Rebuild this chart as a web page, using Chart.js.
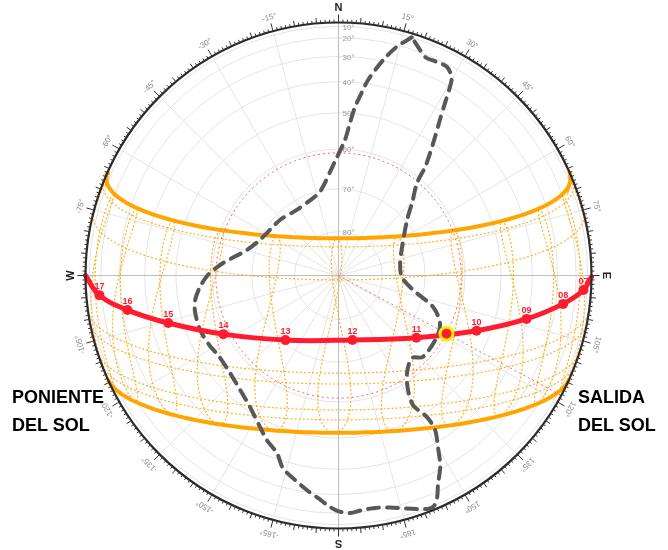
<!DOCTYPE html>
<html>
<head>
<meta charset="utf-8">
<script src="https://cdn.jsdelivr.net/npm/chart.js@4/dist/chart.umd.min.js"></script>
<style>
  html, body { margin: 0; padding: 0; background: #ffffff; }
  #wrap { position: relative; width: 668px; height: 550px; }
  canvas { display: block; }
  .side { position: absolute; font-family: "Liberation Sans", Arial, sans-serif; font-weight: bold;
          font-size: 18px; line-height: 28px; color: #000; }
</style>
</head>
<body>
<div id="wrap">
  <canvas id="sun" width="668" height="550"></canvas>
  <div class="side" style="left:12px; top:383px;">PONIENTE<br>DEL SOL</div>
  <div class="side" style="left:578px; top:383px;">SALIDA<br>DEL SOL</div>
</div>
<script>
// Site latitude (degrees north) and clock-to-solar time offset (minutes)
const LATITUDE = 15;
const CLOCK_OFFSET_MIN = 3;

// Altitude rings and azimuth grid (degrees)
const altitudeRings = [10, 20, 30, 40, 50, 60, 70, 80];
const azimuthGridStep = 15;
const azimuthLabels = [15, 30, 45, 60, 75, 105, 120, 135, 150, 165,
                       -15, -30, -45, -60, -75, -105, -120, -135, -150, -165];
const compassLabels = ['N', 'E', 'S', 'W'];

// Date lines (declination, degrees); the two solstices are drawn solid
const solsticeDeclinations = [23.44, -23.44];
const dateDeclinations = [21.5, 14.0, -7.7, -10.4, -17.1, -19.8];
// Clock hours shown as analemma hour lines
const hourLines = [5, 6, 7, 8, 9, 10, 11, 12, 13, 14, 15, 16, 17, 18, 19];

// Sun path of the day: hour labels with azimuth / altitude (degrees)
const dayHours   = ['07', '08', '09', '10', '11', '12', '13', '14', '15', '16', '17'];
const dayAzimuth = [93.4, 97.2, 103.0, 111.8, 128.6, 167.8, 219.4, 243.0, 254.4, 260.7, 265.3];
const dayAltitude= [14.1, 26.5, 40.3, 54.0, 66.8, 74.9, 70.7, 59.3, 45.7, 32.3, 18.5];
const riseAzimuth = 90.3, setAzimuth = 270.0;

// Current sun position
const sunAzimuth = 118.3;
const sunAltitude = 61.0;

// Obstruction skyline (azimuth / altitude, degrees), closed outline
const obstructionAzimuth = [17.1, 14.3, 11.7, 8.6, 7.3, 5.6, 4.3, 2.7, 358.2, 347.6, 341.8, 327.5, 313.5, 296.1, 285.5,
  276.2, 270.2, 265.3, 260.3, 255.7, 248.5, 241.2, 236.6, 228.1, 220.7, 213.9, 207.4, 203.5, 199.1, 196.1,
  192.0, 188.4, 185.3, 182.1, 180.1, 177.2, 174.3, 171.1, 167.5, 163.6, 159.2, 157.5, 156.1, 154.6, 151.9,
  149.9, 148.0, 148.0, 150.1, 148.7, 144.9, 138.3, 134.0, 122.0, 115.1, 108.4, 101.0, 91.4, 78.5, 65.8,
  51.0, 45.4, 40.3, 38.6, 36.8, 34.9, 33.1, 31.7, 30.6, 29.7, 27.5, 24.8, 21.6, 19.9, 17.1];
const obstructionAltitude = [9.9, 21.1, 29.6, 38.6, 43.0, 48.0, 52.8, 57.6, 63.2, 70.2, 71.2, 72.1, 71.4, 70.3, 67.9,
  62.7, 58.9, 56.7, 54.9, 54.2, 54.0, 54.6, 55.2, 54.8, 53.4, 51.2, 47.6, 44.8, 42.0, 37.6,
  34.3, 31.0, 28.0, 23.7, 21.4, 19.9, 21.3, 21.6, 20.1, 16.2, 9.2, 9.5, 15.9, 23.6, 31.4,
  38.4, 43.9, 48.7, 53.8, 58.1, 61.9, 64.1, 62.4, 62.7, 63.7, 66.8, 72.5, 75.5, 75.6, 74.0,
  69.6, 65.9, 61.3, 56.7, 52.8, 48.2, 42.8, 36.8, 30.1, 25.5, 21.7, 21.7, 21.7, 18.6, 9.9];

// Colours
const RED = 'rgb(255, 28, 48)';
const ORANGE = 'rgb(255, 165, 0)';
const GREY_DASH = 'rgb(88, 88, 88)';

// ---- geometry helpers ----
const D2R = Math.PI / 180;
// orthographic projection of the sky hemisphere: horizon radius = 1
function project(az, alt) {
  const r = Math.cos(alt * D2R);
  return { x: r * Math.sin(az * D2R), y: r * Math.cos(az * D2R) };
}
// sun azimuth/altitude from declination and hour angle
function sunPosition(dec, ha) {
  const p = LATITUDE * D2R, d = dec * D2R, h = ha * D2R;
  const east = -Math.cos(d) * Math.sin(h);
  const north = Math.cos(p) * Math.sin(d) - Math.sin(p) * Math.cos(d) * Math.cos(h);
  const up = Math.sin(p) * Math.sin(d) + Math.cos(p) * Math.cos(d) * Math.cos(h);
  const alt = Math.asin(Math.max(-1, Math.min(1, up))) / D2R;
  let az = Math.atan2(east, north) / D2R;
  if (az < 0) az += 360;
  return { az, alt };
}
function declination(day) {
  return 23.44 * Math.sin(2 * Math.PI * (284 + day) / 365);
}
function equationOfTime(day) {
  const b = 2 * Math.PI * (day - 81) / 364;
  return 9.87 * Math.sin(2 * b) - 7.53 * Math.cos(b) - 1.5 * Math.sin(b);
}

// one day's path from sunrise to sunset
function datePath(dec) {
  const t = -Math.tan(LATITUDE * D2R) * Math.tan(dec * D2R);
  const h0 = Math.acos(Math.max(-1, Math.min(1, t))) / D2R;
  const pts = [];
  const n = 120;
  for (let i = 0; i <= n; i++) {
    const ha = -h0 + (2 * h0) * i / n;
    const s = sunPosition(dec, ha);
    pts.push(project(s.az, Math.max(0, s.alt)));
  }
  return pts;
}

// analemma hour line, split into pieces above the horizon
function hourLine(hour) {
  const pieces = [];
  let cur = [];
  for (let day = 0; day <= 366; day += 2) {
    const solar = hour * 60 + CLOCK_OFFSET_MIN + equationOfTime(day);
    const ha = (solar / 60 - 12) * 15;
    const s = sunPosition(declination(day), ha);
    if (s.alt >= 0) {
      cur.push(project(s.az, s.alt));
    } else if (cur.length) {
      pieces.push(cur); cur = [];
    }
  }
  if (cur.length) pieces.push(cur);
  return pieces;
}

// ---- datasets ----
const datasets = [];
const lineBase = { showLine: true, pointRadius: 0, fill: false, tension: 0 };

// current sun marker (top)
datasets.push(Object.assign({}, lineBase, {
  order: 0, data: [project(sunAzimuth, sunAltitude)], showLine: false,
  pointRadius: 6.5, pointBackgroundColor: RED, pointBorderColor: 'rgb(255, 238, 0)', pointBorderWidth: 3
}));

// day path with hour points
const dayPoints = dayAzimuth.map((a, i) => project(a, dayAltitude[i]));
datasets.push(Object.assign({}, lineBase, {
  order: 1,
  data: [project(riseAzimuth, 0)].concat(dayPoints, [project(setAzimuth, 0)]),
  borderColor: RED, borderWidth: 5, tension: 0.4,
  pointRadius: ctx => (ctx.dataIndex === 0 || ctx.dataIndex === dayPoints.length + 1) ? 0 : 5,
  pointBackgroundColor: RED, pointBorderWidth: 0, borderCapStyle: 'round'
}));

// obstruction outline
datasets.push(Object.assign({}, lineBase, {
  order: 2,
  data: obstructionAzimuth.map((a, i) => project(a, obstructionAltitude[i])),
  borderColor: GREY_DASH, borderWidth: 4, borderDash: [11, 8], borderCapStyle: 'round', tension: 0.3
}));

// sun altitude circle and bearing ray
const circ = [];
for (let a = 0; a <= 360; a += 3) circ.push(project(a, sunAltitude));
datasets.push(Object.assign({}, lineBase, {
  order: 3, data: circ, borderColor: 'rgba(255, 70, 70, 0.85)', borderWidth: 1, borderDash: [2, 3]
}));
datasets.push(Object.assign({}, lineBase, {
  order: 3, data: [{ x: 0, y: 0 }, project(sunAzimuth, 0)],
  borderColor: 'rgba(255, 70, 70, 0.85)', borderWidth: 1, borderDash: [2, 3]
}));
datasets.push(Object.assign({}, lineBase, {
  order: 3, data: [project(0, sunAltitude)], showLine: false,
  pointRadius: 2, pointStyle: 'rect', pointBackgroundColor: RED, pointBorderWidth: 0
}));

// solstice paths
solsticeDeclinations.forEach(dec => {
  datasets.push(Object.assign({}, lineBase, {
    order: 4, data: datePath(dec), borderColor: ORANGE, borderWidth: 4
  }));
});
// monthly date lines
dateDeclinations.forEach(dec => {
  datasets.push(Object.assign({}, lineBase, {
    order: 5, data: datePath(dec), borderColor: 'rgba(255, 165, 0, 0.85)', borderWidth: 1.2, borderDash: [2, 2]
  }));
});
// hour lines (analemmas)
hourLines.forEach(h => {
  hourLine(h).forEach(piece => {
    datasets.push(Object.assign({}, lineBase, {
      order: 5, data: piece, borderColor: 'rgba(255, 165, 0, 0.85)', borderWidth: 1.2, borderDash: [2, 2]
    }));
  });
});

// ---- static sky grid, ring and labels ----
const CX = 338.5, CY = 275.5, RPX = 253, W = 668, H = 550;
const skyGrid = {
  id: 'skyGrid',
  beforeDatasetsDraw(chart) {
    const { ctx, scales: { x, y } } = chart;
    const px = v => x.getPixelForValue(v), py = v => y.getPixelForValue(v);
    const cx = px(0), cy = py(0), R = px(1) - px(0);
    ctx.save();
    // altitude rings
    ctx.strokeStyle = '#e4e4e4'; ctx.lineWidth = 1;
    altitudeRings.forEach(a => {
      ctx.beginPath(); ctx.arc(cx, cy, R * Math.cos(a * D2R), 0, 2 * Math.PI); ctx.stroke();
    });
    // azimuth spokes
    for (let a = 0; a < 360; a += azimuthGridStep) {
      if (a % 90 === 0) continue;
      const p = project(a, 0);
      ctx.beginPath(); ctx.moveTo(cx, cy); ctx.lineTo(px(p.x), py(p.y)); ctx.stroke();
    }
    // main axes
    ctx.strokeStyle = '#bdbdbd';
    ctx.beginPath(); ctx.moveTo(px(-1), cy); ctx.lineTo(px(1), cy);
    ctx.moveTo(cx, py(1)); ctx.lineTo(cx, py(-1)); ctx.stroke();
    // altitude labels
    ctx.fillStyle = '#9a9a9a'; ctx.font = '8px "Liberation Sans", Arial, sans-serif';
    ctx.textAlign = 'left'; ctx.textBaseline = 'middle';
    altitudeRings.forEach(a => {
      ctx.fillText(a + '°', cx + 4, cy - R * Math.cos(a * D2R) + 1);
    });
    ctx.restore();
  },
  afterDatasetsDraw(chart) {
    const { ctx, scales: { x, y } } = chart;
    const px = v => x.getPixelForValue(v), py = v => y.getPixelForValue(v);
    const cx = px(0), cy = py(0), R = px(1) - px(0);
    ctx.save();
    // horizon ring
    ctx.strokeStyle = '#2b2b2b'; ctx.lineWidth = 2.2;
    ctx.beginPath(); ctx.arc(cx, cy, R, 0, 2 * Math.PI); ctx.stroke();
    // degree ticks
    ctx.strokeStyle = '#333'; ctx.lineWidth = 1;
    for (let a = 0; a < 360; a++) {
      const len = a % 15 === 0 ? 8 : (a % 5 === 0 ? 5.5 : 3);
      const s = Math.sin(a * D2R), c = Math.cos(a * D2R);
      ctx.beginPath();
      ctx.moveTo(cx + s * R, cy - c * R);
      ctx.lineTo(cx + s * (R + len), cy - c * (R + len));
      ctx.stroke();
    }
    // azimuth labels, rotated along the ring
    ctx.textAlign = 'center'; ctx.textBaseline = 'middle';
    azimuthLabels.forEach(v => {
      const a = v * D2R;
      ctx.save();
      ctx.translate(cx + Math.sin(a) * (R + 14), cy - Math.cos(a) * (R + 14));
      ctx.rotate(a);
      ctx.fillStyle = '#8a8a8a'; ctx.font = '8px "Liberation Sans", Arial, sans-serif';
      ctx.fillText(v + '°', 0, 0);
      ctx.restore();
    });
    compassLabels.forEach((t, i) => {
      const a = i * 90 * D2R;
      ctx.save();
      ctx.translate(cx + Math.sin(a) * (R + 15), cy - Math.cos(a) * (R + 15));
      ctx.rotate(a);
      ctx.fillStyle = '#222'; ctx.font = 'bold 11px "Liberation Sans", Arial, sans-serif';
      ctx.fillText(t, 0, 0);
      ctx.restore();
    });
    // hour labels on the day path
    ctx.fillStyle = RED; ctx.font = 'bold 9px "Liberation Sans", Arial, sans-serif';
    ctx.textAlign = 'center'; ctx.textBaseline = 'bottom';
    dayPoints.forEach((p, i) => {
      ctx.fillText(dayHours[i], px(p.x), py(p.y) - 4);
    });
    ctx.restore();
  }
};

new Chart(document.getElementById('sun'), {
  type: 'scatter',
  data: { datasets },
  options: {
    responsive: false,
    animation: false,
    events: [],
    layout: { autoPadding: false, padding: 0 },
    plugins: { legend: { display: false }, tooltip: { enabled: false } },
    scales: {
      x: { display: false, min: -CX / RPX, max: (W - CX) / RPX },
      y: { display: false, min: -(H - CY) / RPX, max: CY / RPX }
    }
  },
  plugins: [skyGrid]
});
</script>
</body>
</html>
